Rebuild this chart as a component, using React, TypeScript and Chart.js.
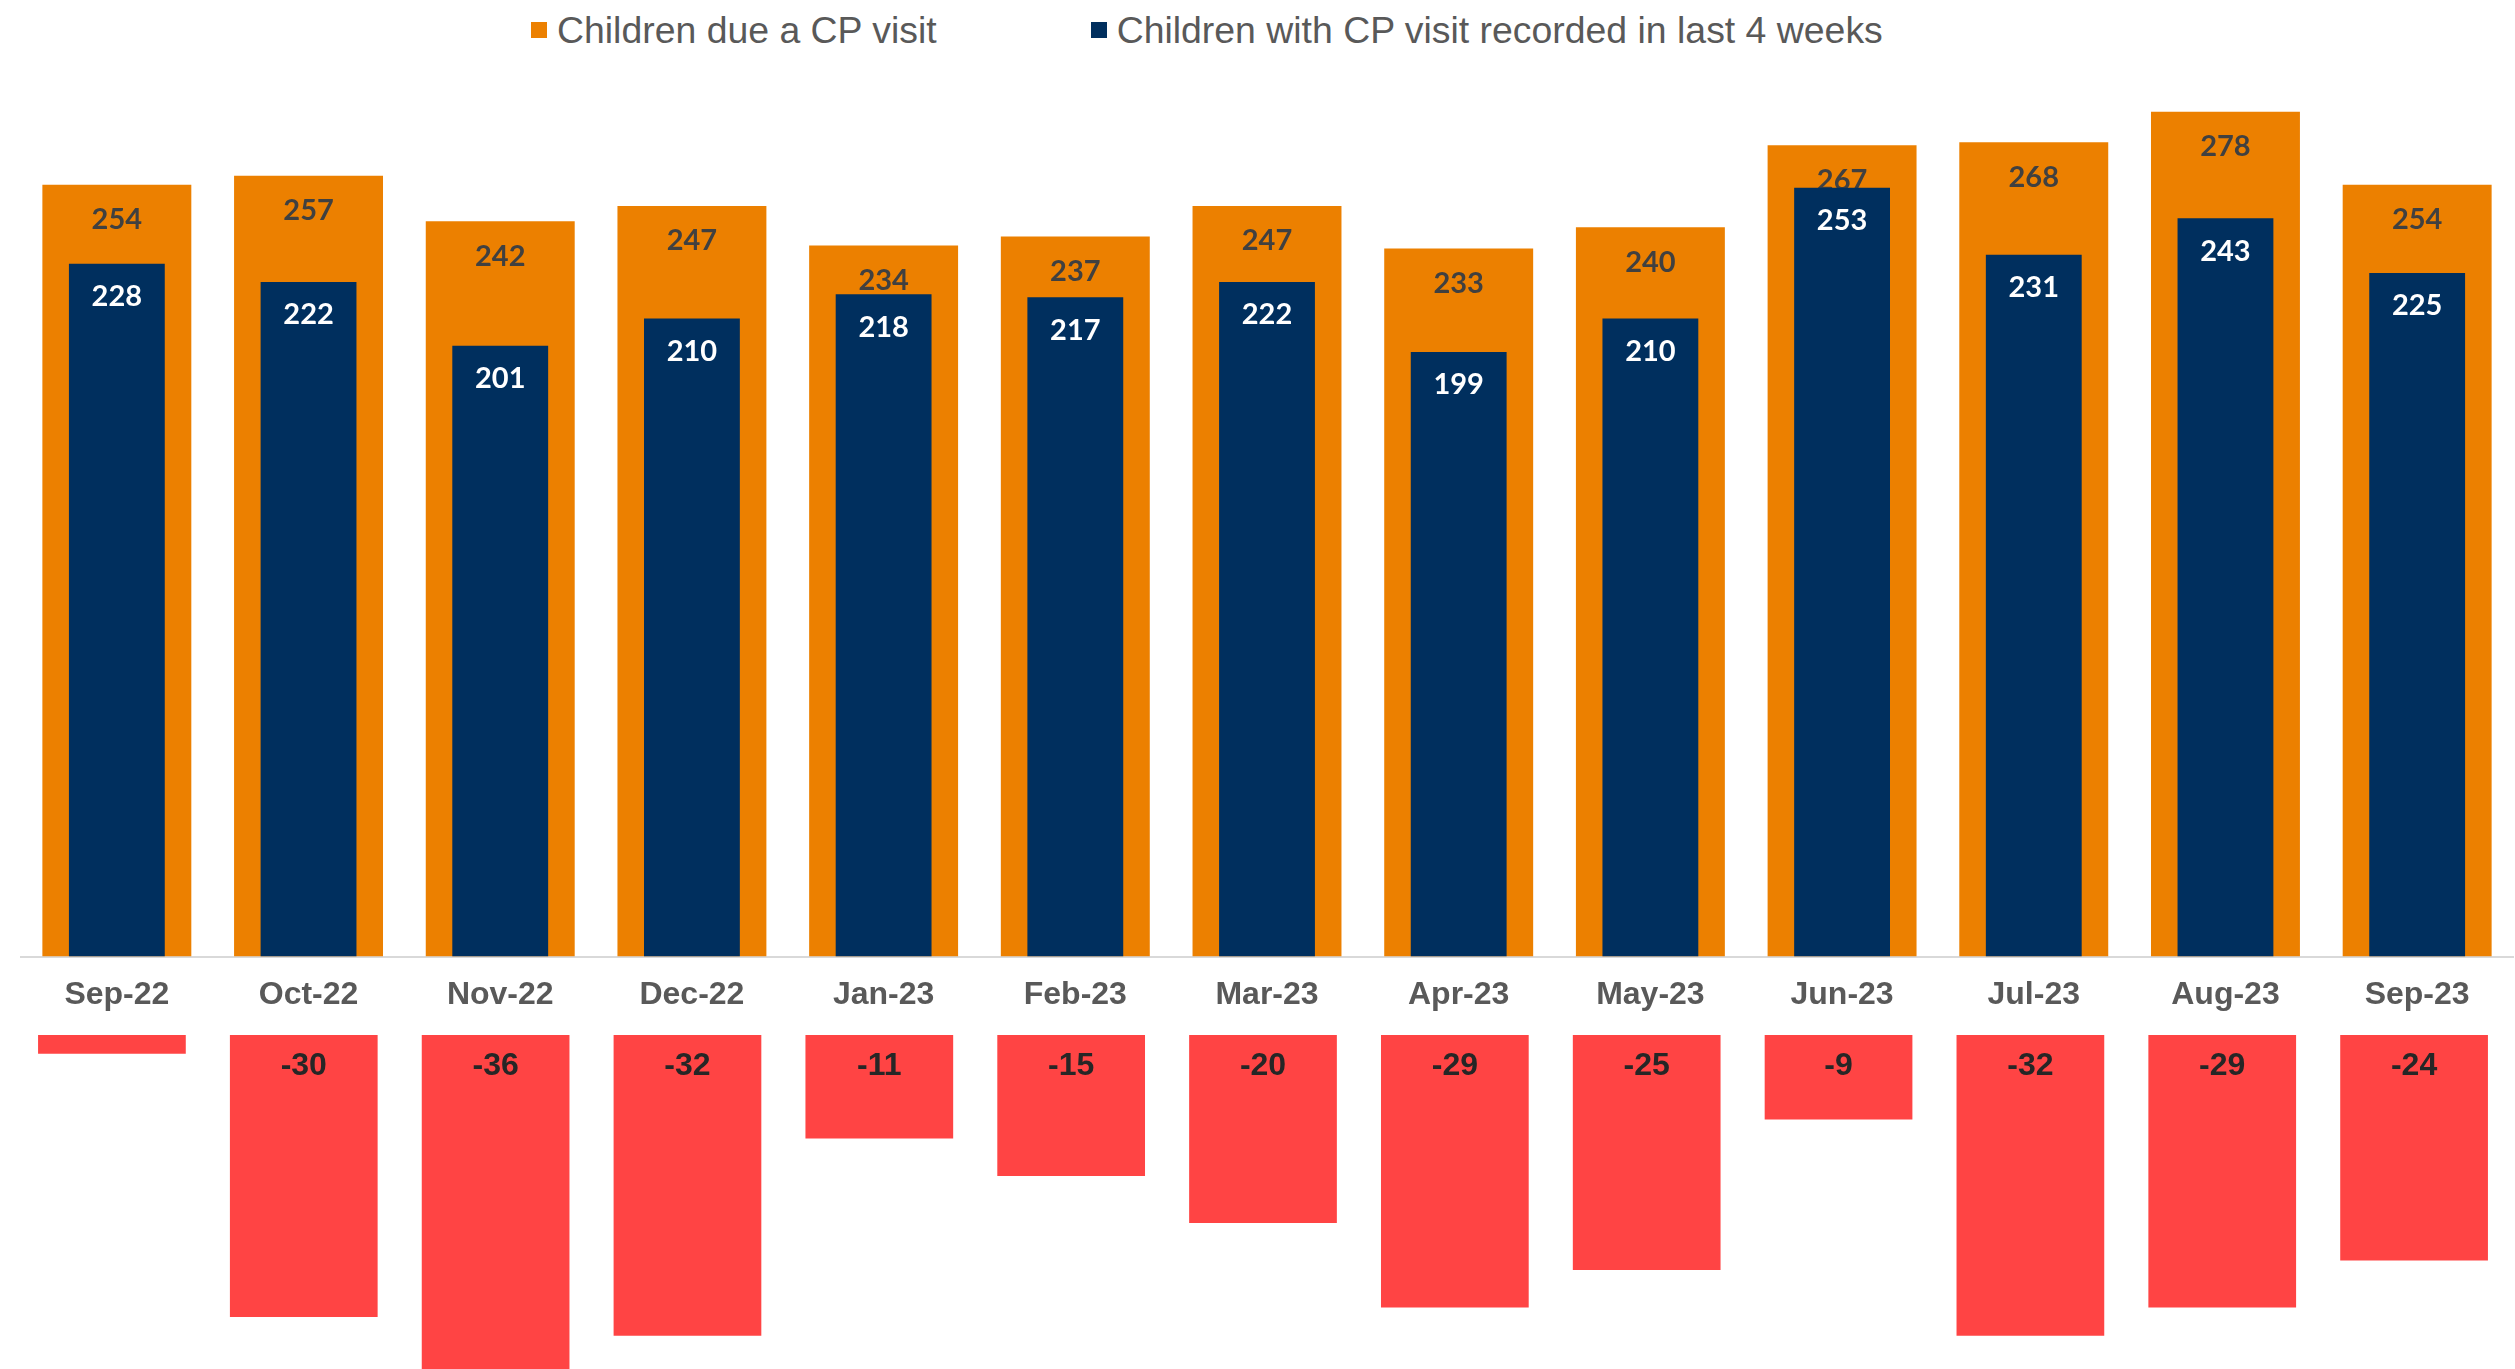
import React, { useEffect, useRef } from 'react';
import { Chart, registerables } from 'chart.js';

Chart.register(...registerables);

const categories = ['Sep-22', 'Oct-22', 'Nov-22', 'Dec-22', 'Jan-23', 'Feb-23', 'Mar-23', 'Apr-23', 'May-23', 'Jun-23', 'Jul-23', 'Aug-23', 'Sep-23'];
const dueVisit = [254, 257, 242, 247, 234, 237, 247, 233, 240, 267, 268, 278, 254];
const visitRecorded = [228, 222, 201, 210, 218, 217, 222, 199, 210, 253, 231, 243, 225];
const difference = [-2, -30, -36, -32, -11, -15, -20, -29, -25, -9, -32, -29, -24];
const differenceLabels = ['', '-30', '-36', '-32', '-11', '-15', '-20', '-29', '-25', '-9', '-32', '-29', '-24'];

const seriesNames = ['Children due a CP visit', 'Children with CP visit recorded in last 4 weeks'];

const ORANGE = '#EC8000';
const NAVY = '#002F5E';
const RED = '#FF4444';

const labelPlugin = {
  id: 'barLabels',
  afterDatasetDraw(chart: any, args: any) {
    const ds = chart.data.datasets[args.index] as any;
    const cfg = ds.labelStyle;
    if (!cfg) return;
    const ctx = chart.ctx;
    ctx.save();
    ctx.font = cfg.font;
    ctx.fillStyle = cfg.color;
    ctx.textAlign = 'center';
    ctx.textBaseline = 'middle';
    args.meta.data.forEach((el: any, i: number) => {
      const text = cfg.text ? cfg.text[i] : String(ds.data[i]);
      if (!text) return;
      const p = el.getProps(['x', 'y', 'base'], true);
      const top = Math.min(p.y, p.base);
      ctx.fillText(text, p.x, top + cfg.offset);
    });
    ctx.restore();
  },
};

export default function App() {
  const topRef = useRef<HTMLCanvasElement>(null);
  const bottomRef = useRef<HTMLCanvasElement>(null);

  useEffect(() => {
    const top = new Chart(topRef.current as HTMLCanvasElement, {
      type: 'bar',
      data: {
        labels: categories,
        datasets: [
          {
            label: seriesNames[1],
            data: visitRecorded,
            backgroundColor: NAVY,
            barPercentage: 0.5,
            categoryPercentage: 1,
            grouped: false,
            order: 1,
            labelStyle: { font: 'bold 29px Lato', color: '#FFFFFF', offset: 33 },
          } as any,
          {
            label: seriesNames[0],
            data: dueVisit,
            backgroundColor: ORANGE,
            barPercentage: 0.777,
            categoryPercentage: 1,
            grouped: false,
            order: 2,
            labelStyle: { font: 'bold 29px Lato', color: '#404040', offset: 35 },
          } as any,
        ],
      },
      options: {
        responsive: false,
        animation: false,
        layout: { padding: { top: 45, left: 21, right: 2, bottom: 0 } },
        plugins: { legend: { display: false }, tooltip: { enabled: false } },
        scales: {
          x: {
            grid: { display: false, drawTicks: false },
            border: { display: true, color: '#D9D9D9', width: 2 },
            ticks: {
              color: '#595959',
              font: { family: '"Liberation Sans", Arial, sans-serif', size: 32, weight: 'bold' },
              padding: 19,
              maxRotation: 0,
              autoSkip: false,
            },
          },
          y: { display: false, min: 0, max: 300 },
        },
      },
      plugins: [labelPlugin],
    });

    const bottom = new Chart(bottomRef.current as HTMLCanvasElement, {
      type: 'bar',
      data: {
        labels: categories,
        datasets: [
          {
            label: 'Difference',
            data: difference,
            backgroundColor: RED,
            barPercentage: 0.77,
            categoryPercentage: 1,
            labelStyle: { font: 'bold 32px "Liberation Sans", Arial, sans-serif', color: '#262626', offset: 31, text: differenceLabels },
          } as any,
        ],
      },
      options: {
        responsive: false,
        animation: false,
        layout: { padding: { top: 0, left: 16, right: 5, bottom: 0 } },
        plugins: { legend: { display: false }, tooltip: { enabled: false } },
        scales: {
          x: { display: false },
          y: { display: false, min: -40, max: 0 },
        },
      },
      plugins: [labelPlugin],
    });

    return () => {
      top.destroy();
      bottom.destroy();
    };
  }, []);

  const legendText: React.CSSProperties = {
    fontFamily: '"Liberation Sans", Arial, sans-serif',
    fontSize: 37.4,
    color: '#595959',
    whiteSpace: 'nowrap',
    lineHeight: '44px',
  };
  const sq = (c: string): React.CSSProperties => ({ width: 16, height: 16, background: c, marginRight: 10, flex: 'none' });

  return (
    <div style={{ position: 'fixed', left: 0, top: 0, width: 2515, height: 1369, overflow: 'hidden', background: '#FFFFFF' }}>
      <div style={{ position: 'absolute', left: 531, top: 8, display: 'flex', alignItems: 'center' }}>
        <div style={sq(ORANGE)} />
        <span style={legendText}>{seriesNames[0]}</span>
        <div style={{ width: 154 }} />
        <div style={sq(NAVY)} />
        <span style={legendText}>{seriesNames[1]}</span>
      </div>
      <canvas ref={topRef} width={2515} height={1033} style={{ position: 'absolute', left: 0, top: 0, width: 2515, height: 1033 }} />
      <canvas ref={bottomRef} width={2515} height={376} style={{ position: 'absolute', left: 0, top: 1035, width: 2515, height: 376 }} />
    </div>
  );
}
